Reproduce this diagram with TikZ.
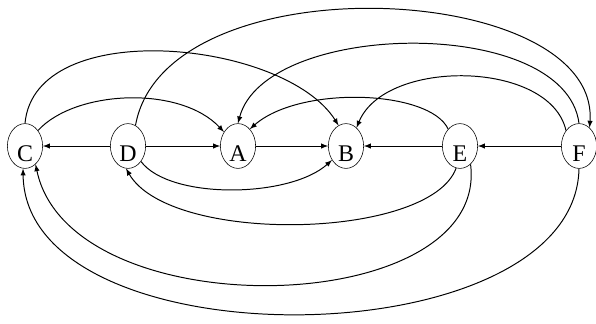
\documentclass[tikz,border=0pt]{standalone}
\usepackage{fontspec}
\setmainfont{Liberation Serif}
\usetikzlibrary{shapes.geometric}

\tikzset{
  sommet/.style={draw, ellipse, inner sep=0pt,
    minimum width=0.88cm, minimum height=1.12cm,
    text height=0.75cm, text depth=0pt,
    font=\fontsize{17}{17}\selectfont},
  fleche/.style={-latex, line width=0.7pt}
}

\begin{document}
\begin{tikzpicture}[x=0.025cm, y=-0.025cm]

\useasboundingbox (0,0) rectangle (596,323);

% Sommets
\node[sommet] (C) at (25,146) {C};
\node[sommet] (D) at (128,146) {D};
\node[sommet] (A) at (238,146) {A};
\node[sommet] (B) at (346,146) {B};
\node[sommet] (E) at (460,146) {E};
\node[sommet] (F) at (579,146) {F};

% Arcs droits
\draw[fleche] (D) -- (C);
\draw[fleche] (D) -- (A);
\draw[fleche] (A) -- (B);
\draw[fleche] (E) -- (B);
\draw[fleche] (F) -- (E);

% Arcs du haut
\draw[fleche]
(C.north)
.. controls (35,15) and (285,40) ..
(B.110);

\draw[fleche]
(C.50)
.. controls (75,90) and (180,85) ..
(A.135);

\draw[fleche]
(D.70)
.. controls (165,-40) and (600,-20) ..
(F.60);

\draw[fleche]
(F.north)
.. controls (565,15) and (265,20) ..
(A.north);

\draw[fleche]
(F.130)
.. controls (550,60) and (385,58) ..
(B.60);

\draw[fleche]
(E.125)
.. controls (430,90) and (300,85) ..
(A.55);

% Arcs du bas
\draw[fleche]
(D.-50)
.. controls (170,200) and (290,198) ..
(B.-135);

\draw[fleche]
(E.-100)
.. controls (430,240) and (170,245) ..
(D.-95);

\draw[fleche]
(E.-60)
.. controls (490,320) and (70,330) ..
(C.-60);

\draw[fleche]
(F.south)
.. controls (575,360) and (25,365) ..
(C.-95);

\end{tikzpicture}
\end{document}
